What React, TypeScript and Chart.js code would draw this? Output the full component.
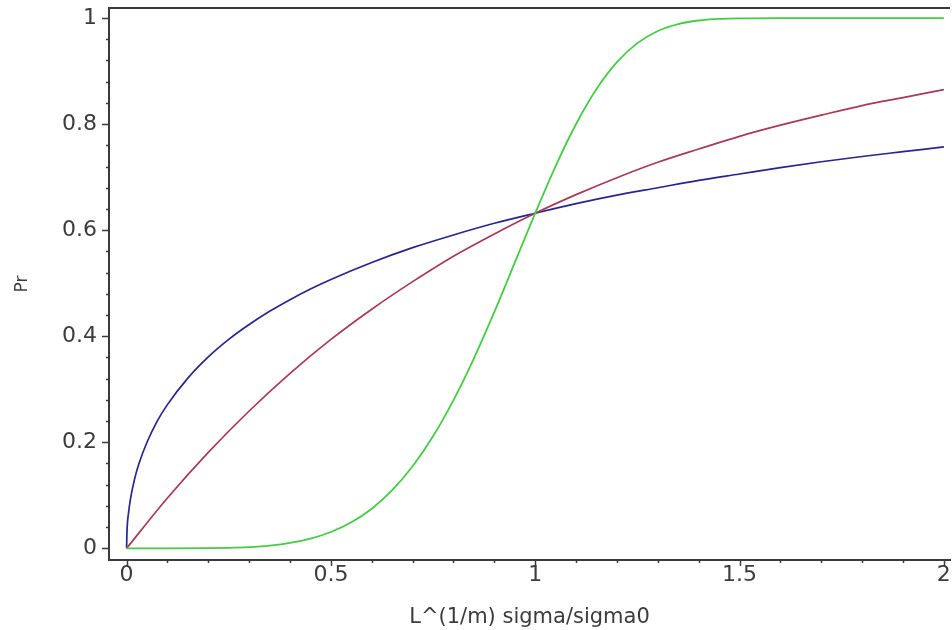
import React, { useEffect, useRef } from "react";
import { Chart, registerables } from "chart.js";

Chart.register(...registerables);

// m = 0.5 curve (blue)
const blueX = [0, 0.001, 0.005, 0.01, 0.02, 0.03, 0.05, 0.075, 0.1, 0.15, 0.2, 0.25, 0.3, 0.35, 0.4, 0.45, 0.5, 0.6, 0.7, 0.8, 0.9, 1.0, 1.1, 1.2, 1.3, 1.4, 1.5, 1.6, 1.7, 1.8, 1.9, 2.0];
const blueY = [0, 0.031, 0.068, 0.095, 0.132, 0.159, 0.2, 0.24, 0.271, 0.321, 0.361, 0.394, 0.422, 0.447, 0.469, 0.489, 0.507, 0.539, 0.567, 0.591, 0.613, 0.632, 0.65, 0.666, 0.68, 0.694, 0.706, 0.718, 0.729, 0.739, 0.748, 0.757];

// m = 1 curve (red)
const redX = [0, 0.1, 0.2, 0.3, 0.4, 0.5, 0.6, 0.7, 0.8, 0.9, 1.0, 1.1, 1.2, 1.3, 1.4, 1.5, 1.6, 1.7, 1.8, 1.9, 2.0];
const redY = [0, 0.095, 0.181, 0.259, 0.33, 0.394, 0.451, 0.503, 0.551, 0.593, 0.632, 0.667, 0.699, 0.728, 0.753, 0.777, 0.798, 0.817, 0.835, 0.85, 0.865];

// m = 5 curve (green)
const greenX = [0, 0.1, 0.2, 0.25, 0.3, 0.35, 0.4, 0.45, 0.5, 0.55, 0.6, 0.65, 0.7, 0.75, 0.8, 0.85, 0.9, 0.95, 1.0, 1.05, 1.1, 1.15, 1.2, 1.25, 1.3, 1.35, 1.4, 1.45, 1.5, 1.6, 2.0];
const greenY = [0, 0.0, 0.0003, 0.001, 0.0024, 0.0052, 0.0102, 0.0183, 0.0308, 0.0491, 0.0748, 0.1096, 0.1547, 0.2112, 0.2794, 0.3584, 0.4459, 0.5387, 0.6321, 0.7209, 0.8002, 0.8662, 0.9169, 0.9527, 0.9756, 0.9887, 0.9954, 0.9984, 0.9995, 1.0, 1.0];

const xTickValues = [0, 0.5, 1, 1.5, 2];
const yTickValues = [0, 0.2, 0.4, 0.6, 0.8, 1];

const xTitle = "L^(1/m) sigma/sigma0";
const yTitle = "Pr";

const AXIS_COLOR = "#3a3a3a";
const TEXT_COLOR = "#3c3c3c";
const FONT = "'DejaVu Sans', sans-serif";

const pts = (xs: number[], ys: number[]) => xs.map((x, i) => ({ x, y: ys[i] }));

const frame = {
  id: "frame",
  afterDraw(chart: any) {
    const { ctx, chartArea, scales } = chart;
    const xs = scales.x;
    const ys = scales.y;
    ctx.save();
    ctx.strokeStyle = AXIS_COLOR;
    ctx.lineWidth = 2;
    ctx.beginPath();
    ctx.moveTo(chartArea.left - 1, chartArea.top);
    ctx.lineTo(chartArea.right, chartArea.top);
    ctx.stroke();
    ctx.lineWidth = 1.5;
    for (let i = 0; i <= 20; i++) {
      const v = i / 10;
      const px = Math.round(xs.getPixelForValue(v)) + 0.5;
      const major = i % 5 === 0;
      ctx.beginPath();
      ctx.moveTo(px, chartArea.bottom);
      ctx.lineTo(px, chartArea.bottom + (major ? 6 : 3));
      ctx.stroke();
    }
    for (let i = 0; i <= 25; i++) {
      const v = i * 0.04;
      const py = Math.round(ys.getPixelForValue(v)) + 0.5;
      const major = i % 5 === 0;
      ctx.beginPath();
      ctx.moveTo(chartArea.left, py);
      ctx.lineTo(chartArea.left - (major ? 7 : 3), py);
      ctx.stroke();
    }
    ctx.restore();
  },
};

export default function App() {
  const ref = useRef<HTMLCanvasElement | null>(null);

  useEffect(() => {
    if (!ref.current) return;
    const chart = new Chart(ref.current, {
      type: "line",
      data: {
        datasets: [
          { label: "m=5", data: pts(greenX, greenY), borderColor: "#44cc44", borderWidth: 1.8, pointRadius: 0, cubicInterpolationMode: "monotone" },
          { label: "m=1", data: pts(redX, redY), borderColor: "#a83a55", borderWidth: 1.7, pointRadius: 0, cubicInterpolationMode: "monotone" },
          { label: "m=0.5", data: pts(blueX, blueY), borderColor: "#26268f", borderWidth: 1.7, pointRadius: 0, cubicInterpolationMode: "monotone" },
        ],
      },
      options: {
        animation: false,
        responsive: false,
        maintainAspectRatio: false,
        layout: { padding: { top: 8, right: 2, left: 0, bottom: 0 } },
        plugins: { legend: { display: false }, tooltip: { enabled: false } },
        scales: {
          x: {
            type: "linear",
            min: -0.043,
            max: 2.015,
            afterFit: (s: any) => { s.height = 70; s.paddingLeft = 0; s.paddingRight = 0; },
            afterBuildTicks: (s: any) => { s.ticks = xTickValues.map((v) => ({ value: v })); },
            grid: { display: false, drawTicks: false },
            border: { display: true, color: AXIS_COLOR, width: 2 },
            ticks: {
              color: TEXT_COLOR,
              font: { family: FONT, size: 22 },
              padding: 2,
              maxRotation: 0,
              callback: (v: any) => String(v),
            },
            title: { display: true, text: xTitle, color: TEXT_COLOR, font: { family: FONT, size: 21 }, padding: { top: 0, bottom: 0 } },
          },
          y: {
            type: "linear",
            min: -0.022,
            max: 1.019,
            afterFit: (s: any) => { s.width = 109; s.paddingTop = 0; s.paddingBottom = 0; },
            afterBuildTicks: (s: any) => { s.ticks = yTickValues.map((v) => ({ value: v })); },
            grid: { display: false, drawTicks: false },
            border: { display: true, color: AXIS_COLOR, width: 2 },
            ticks: {
              color: TEXT_COLOR,
              font: { family: FONT, size: 22 },
              padding: 12,
              callback: (v: any) => String(v),
            },
            title: { display: true, text: yTitle, color: TEXT_COLOR, font: { family: FONT, size: 17 }, padding: { top: 12, bottom: 0 } },
          },
        },
      },
      plugins: [frame],
    } as any);
    return () => chart.destroy();
  }, []);

  return (
    <div style={{ position: "fixed", left: 0, top: 0, width: 952, height: 630, background: "#fff" }}>
      <canvas ref={ref} width={952} height={630} />
    </div>
  );
}
